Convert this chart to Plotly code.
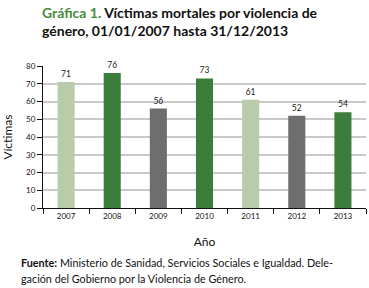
import plotly.graph_objects as go

years = ["2007", "2008", "2009", "2010", "2011", "2012", "2013"]
victims = [71, 76, 56, 73, 61, 52, 54]
colors = ["#b8cbab", "#3b7d3a", "#6e6e6e", "#3b7d3a", "#b8cbab", "#6e6e6e", "#3b7d3a"]
y_ticks = [0, 10, 20, 30, 40, 50, 60, 70, 80]

fig = go.Figure()
fig.add_trace(go.Bar(
    x=years, y=victims, marker=dict(color=colors, line=dict(width=0)),
    width=0.37, text=[str(v) for v in victims], textposition="outside",
    textfont=dict(family="Lato", size=8.5, color="#222"), cliponaxis=False,
))

def ann(text, yshift, xshift, size):
    return dict(text=text, xref="paper", yref="paper", x=0, y=1 if yshift > 0 else 0,
                xanchor="left", yanchor="middle", xshift=xshift, yshift=yshift,
                align="left", showarrow=False,
                font=dict(family="Lato", size=size, color="#111"))

fig.update_layout(
    width=369, height=288,
    margin=dict(l=43, r=3, t=66, b=80),
    paper_bgcolor="white", plot_bgcolor="white",
    showlegend=False,
    font=dict(family="Lato", color="#111"),
    xaxis=dict(
        type="category", showline=True, linecolor="#111", linewidth=1,
        ticks="outside", tickson="boundaries", ticklen=5, tickcolor="#111",
        tickfont=dict(size=8, color="#111"), automargin=False,
        title=dict(text="Año", font=dict(size=12, color="#111"), standoff=18),
    ),
    yaxis=dict(
        range=[0, 80], tickvals=y_ticks, showline=True, linecolor="#111", linewidth=1,
        ticks="outside", ticklen=5, tickcolor="#111",
        tickfont=dict(size=8, color="#111"), automargin=False,
        showgrid=True, gridcolor="#c9c9c9", gridwidth=1.5,
        zeroline=False,
        title=dict(text="Víctimas", font=dict(size=12, color="#111"), standoff=12),
    ),
    annotations=[
        ann("<b><span style='color:#4a8a3b'>Gráfica 1.</span> Víctimas mortales por violencia de</b>", 54, -3, 14),
        ann("<b>género, 01/01/2007 hasta 31/12/2013</b>", 36, -3, 14),
        ann("<b>Fuente:</b> Ministerio de Sanidad, Servicios Sociales e Igualdad. Dele-", -54, -24, 10.8),
        ann("gación del Gobierno por la Violencia de Género.", -70, -24, 10.8),
    ],
)

fig.write_html("out.html", config={"displayModeBar": False},
               post_script="document.body.style.margin='0';document.body.style.overflow='hidden';")
